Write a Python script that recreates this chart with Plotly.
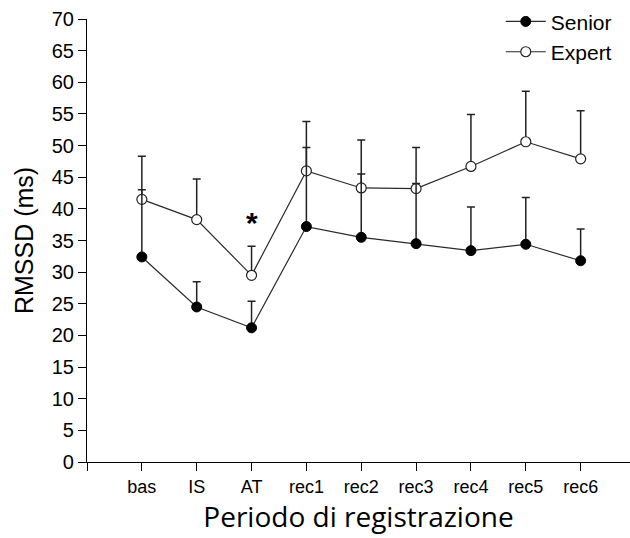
import plotly.graph_objects as go

categories = ["bas", "IS", "AT", "rec1", "rec2", "rec3", "rec4", "rec5", "rec6"]
senior_mean = [32.4, 24.5, 21.2, 37.2, 35.5, 34.5, 33.4, 34.4, 31.8]
senior_sd = [10.6, 4.0, 4.2, 12.5, 10.0, 9.5, 6.9, 7.4, 5.0]
expert_mean = [41.5, 38.3, 29.5, 46.0, 43.3, 43.2, 46.7, 50.6, 47.9]
expert_sd = [6.8, 6.4, 4.6, 7.8, 7.6, 6.5, 8.2, 8.0, 7.6]
sig_category = "AT"
sig_level = 37.8

xpos = list(range(1, len(categories) + 1))
tickvals = [0] + xpos
ticktext = [""] + categories

fig = go.Figure()

fig.add_trace(go.Scatter(
    x=xpos, y=expert_mean, name="Expert", mode="lines+markers",
    line=dict(color="#2a2a2a", width=1.2),
    marker=dict(symbol="circle", size=10, color="white", line=dict(color="#222222", width=1.2)),
    error_y=dict(type="data", symmetric=False, array=expert_sd, arrayminus=[0] * len(expert_sd),
                 color="#222222", thickness=1.5, width=4),
    legendrank=2,
))
fig.add_trace(go.Scatter(
    x=xpos, y=senior_mean, name="Senior", mode="lines+markers",
    line=dict(color="#2a2a2a", width=1.2),
    marker=dict(symbol="circle", size=10, color="black", line=dict(color="black", width=1)),
    error_y=dict(type="data", symmetric=False, array=senior_sd, arrayminus=[0] * len(senior_sd),
                 color="#222222", thickness=1.5, width=4),
    legendrank=1,
))

fig.add_annotation(x=categories.index(sig_category) + 1, y=sig_level, text="<b>*</b>",
                   showarrow=False, font=dict(size=30, color="black", family="Liberation Sans, Arial"))

fig.update_layout(
    width=630, height=538,
    margin=dict(l=87, r=0, t=19, b=76),
    paper_bgcolor="white", plot_bgcolor="white",
    font=dict(family="Liberation Sans, Arial, sans-serif", color="black"),
    showlegend=True,
    legend=dict(x=0.762, y=1.04, xanchor="left", yanchor="top", bgcolor="rgba(0,0,0,0)",
                font=dict(size=21, color="black"), tracegroupgap=0, itemwidth=40),
    xaxis=dict(range=[0, 9.9], showline=True, linecolor="black", linewidth=1.2,
               ticks="outside", ticklen=8, tickcolor="black", tickwidth=1.2,
               tickvals=tickvals, ticktext=ticktext, showgrid=False, zeroline=False,
               tickfont=dict(size=18, family="Liberation Sans Narrow, Arial Narrow, Liberation Sans"),
               title=dict(text="Periodo di registrazione", font=dict(size=28, family="Open Sans, Lato"),
                          standoff=4)),
    yaxis=dict(range=[0, 70], dtick=5, showline=True, linecolor="black", linewidth=1.2,
               ticks="outside", ticklen=8, tickcolor="black", tickwidth=1.2,
               showgrid=False, zeroline=False, tickfont=dict(size=20),
               title=dict(text="RMSSD (ms)", font=dict(size=25), standoff=10)),
)

fig.write_html("out.html")
